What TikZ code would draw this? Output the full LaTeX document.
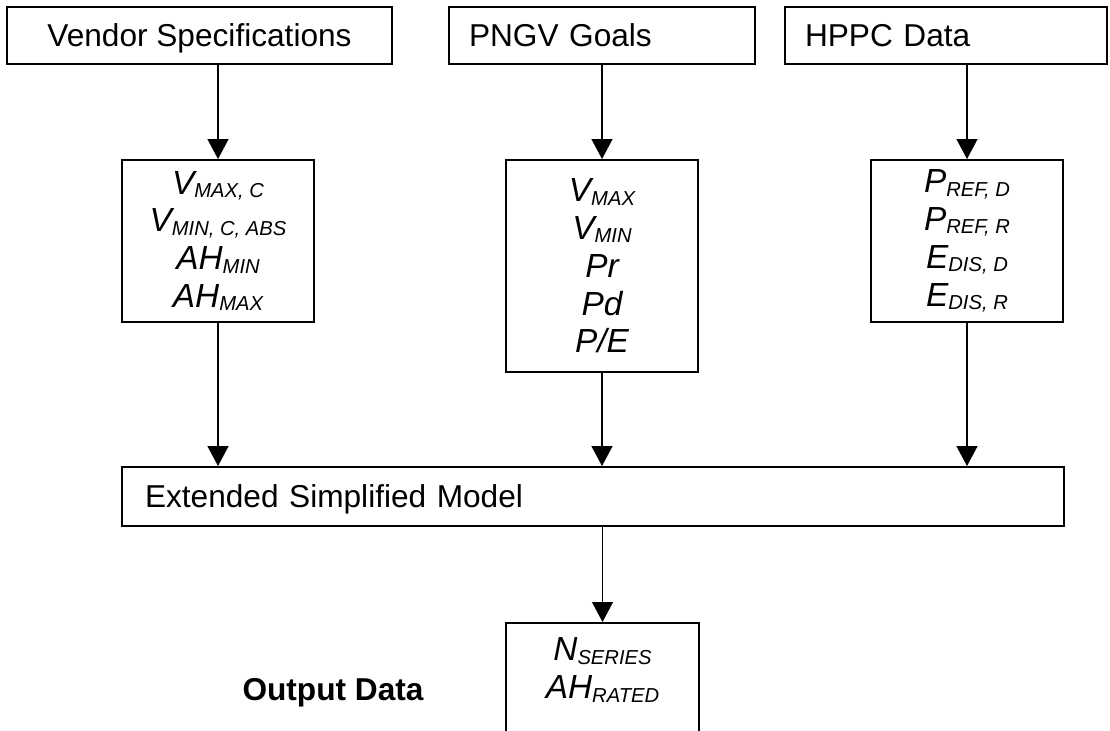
\documentclass[tikz,border=0pt]{standalone}
\usepackage{fontspec}
\setmainfont{Liberation Sans}
\usetikzlibrary{arrows.meta, positioning}
\newcommand{\lowtxt}[1]{\raisebox{-0.1em}{\fontsize{11.5}{12}\selectfont #1}}
\tikzset{
    myarrow/.style={-{Triangle[length=0.4cm, width=0.42cm]}, line width=0.7pt},
    box/.style={draw, rectangle, line width=1.1pt, inner sep=0pt, minimum height=1.14cm, font=\fontsize{18}{20}\selectfont, text height=13pt, text depth=0pt},
    valbox/.style={draw, rectangle, line width=1.1pt, minimum width=3.84cm, inner sep=0pt, align=center, font=\fontsize{19}{21.5}\selectfont\itshape}
}
\begin{document}
\begin{tikzpicture}
    \useasboundingbox (0,0) rectangle (22.2,-14.62);
    \clip (0,0) rectangle (22.2,-14.62);
    % sources
    \node (vendor) [box, minimum width=7.7cm] at (3.99,-0.71) {Vendor Specifications};
    \node (pngv) [box, text width=5.32cm, inner xsep=0.4cm, align=left] at (12.04,-0.71) {PNGV Goals};
    \node (hppc) [box, text width=5.64cm, inner xsep=0.4cm, align=left] at (18.92,-0.71) {HPPC Data};
    % values
    \node (vspec) [valbox, minimum height=3.24cm] at (4.36,-4.82) {V\lowtxt{MAX, C}\\ V\lowtxt{MIN, C, ABS}\\ AH\lowtxt{MIN}\\ AH\lowtxt{MAX}};
    \node (goals) [valbox, minimum height=4.24cm] at (12.04,-5.32) {V\lowtxt{MAX}\\ V\lowtxt{MIN}\\ Pr\\ Pd\\ P/E};
    \node (hdata) [valbox, minimum height=3.24cm] at (19.34,-4.82) {P\lowtxt{REF, D}\\ P\lowtxt{REF, R}\\ E\lowtxt{DIS, D}\\ E\lowtxt{DIS, R}};
    % model
    \node (esm) [box, minimum height=1.18cm, text width=17.92cm, inner xsep=0.46cm, align=left] at (11.86,-9.93) {Extended Simplified Model};
    % output
    \node (outbox) [valbox, anchor=north, minimum width=3.86cm, minimum height=2.76cm] at (12.05,-12.44) {};
    \node (outvals) [valbox, draw=none] at (12.05,-13.4) {N\lowtxt{SERIES}\\ AH\lowtxt{RATED}};
    \node (outlabel) [font=\fontsize{18}{20}\selectfont\bfseries, anchor=base] at (6.66,-14.0) {Output Data};
    \draw [myarrow] (vendor.south -| vspec) -- (vspec);
    \draw [myarrow] (pngv.south -| goals) -- (goals);
    \draw [myarrow] (hppc.south -| hdata) -- (hdata);
    \draw [myarrow] (vspec) -- (vspec |- esm.north);
    \draw [myarrow] (goals) -- (goals |- esm.north);
    \draw [myarrow] (hdata) -- (hdata |- esm.north);
    \draw [myarrow] (esm.south -| outbox) -- (outbox);
\end{tikzpicture}
\end{document}
